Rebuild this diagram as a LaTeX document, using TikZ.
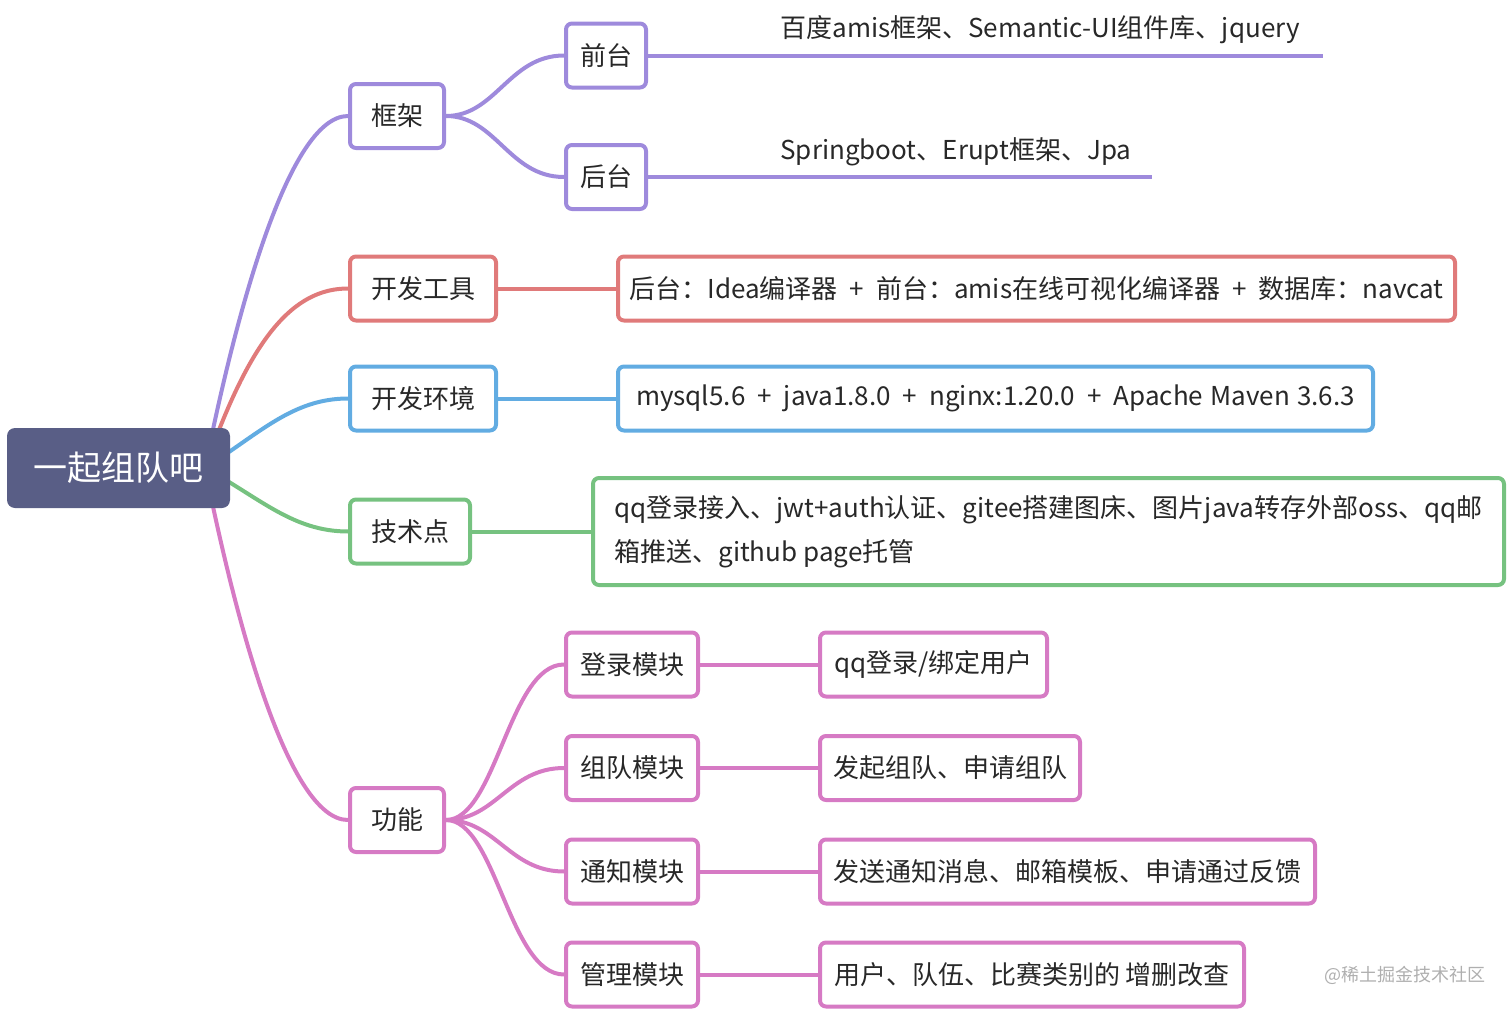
\documentclass[tikz,border=0pt]{standalone}
\usepackage{fontspec}
\setmainfont{Noto Sans CJK SC}
\usetikzlibrary{backgrounds}
\definecolor{rootc}{RGB}{89,94,134}
\definecolor{purc}{RGB}{158,138,220}
\definecolor{redc}{RGB}{224,122,122}
\definecolor{bluc}{RGB}{98,172,226}
\definecolor{grnc}{RGB}{118,194,128}
\definecolor{pnkc}{RGB}{214,122,196}
\definecolor{txtc}{RGB}{40,40,40}
\definecolor{wmc}{RGB}{175,175,175}
\newcommand{\plusgap}{\hspace{6pt}+\hspace{6pt}}
\begin{document}
\begin{tikzpicture}[x=0.5pt,y=-0.5pt,
  mbox/.style={draw, line width=2pt, rounded corners=3pt, fill=white, inner sep=0pt,
    minimum height=32pt, align=center, text=txtc, font=\fontsize{13}{16}\selectfont},
  rootbox/.style={fill=rootc, rounded corners=4pt, inner sep=0pt, minimum width=111.5pt,
    minimum height=40pt, text=white, font=\fontsize{17}{20}\selectfont},
  conn/.style={line width=2pt},
  lbl/.style={inner sep=0pt, text=txtc, font=\fontsize{13}{16}\selectfont, anchor=west}
]
\useasboundingbox (0,0) rectangle (1512,1012);

% root
\node[rootbox] (root) at (118.5,468) {一起组队吧};

% level 1
\node[mbox, draw=purc, minimum width=47pt] (kj) at (397,116) {框架};
\node[mbox, draw=redc, minimum width=73pt] (kf) at (423,288.5) {开发工具};
\node[mbox, draw=bluc, minimum width=73pt] (hj) at (423,398.5) {开发环境};
\node[mbox, draw=grnc, minimum width=60pt] (js) at (410,531.5) {技术点};
\node[mbox, draw=pnkc, minimum width=47pt] (gn) at (397,820) {功能};

% level 2 framework
\node[mbox, draw=purc, minimum width=40pt] (qt) at (606,55.5) {前台};
\node[mbox, draw=purc, minimum width=40pt] (ht) at (606,177) {后台};
\coordinate (qtend) at (1323,55.5);
\coordinate (htend) at (1152,177);
\node[lbl] (qtl) at (780,30) {百度amis框架、Semantic-UI组件库、jquery};
\node[lbl] (htl) at (780,152) {Springboot、Erupt框架、Jpa};

% leaves
\node[mbox, draw=redc, minimum width=418.5pt] (kfl) at (1036.5,288.5) {后台：Idea编译器\plusgap 前台：amis在线可视化编译器\plusgap 数据库：navcat};
\node[mbox, draw=bluc, minimum width=377.5pt] (hjl) at (995.5,398.5) {\spaceskip=3.6pt plus 1pt mysql5.6\plusgap java1.8.0\plusgap nginx:1.20.0\plusgap Apache Maven 3.6.3};
\node[mbox, draw=grnc, minimum width=455.5pt, minimum height=53.5pt, align=left,
  font=\fontsize{13}{22}\selectfont] (jsl) at (1048.5,531.5)
  {qq登录接入、jwt+auth认证、gitee搭建图床、图片java转存外部oss、qq邮\\箱推送、github page托管};

% modules
\node[mbox, draw=pnkc, minimum width=66pt] (m1) at (632,664.5) {登录模块};
\node[mbox, draw=pnkc, minimum width=66pt] (m2) at (632,768) {组队模块};
\node[mbox, draw=pnkc, minimum width=66pt] (m3) at (632,871.5) {通知模块};
\node[mbox, draw=pnkc, minimum width=66pt] (m4) at (632,974.5) {管理模块};
\node[mbox, draw=pnkc, minimum width=113.5pt] (l1) at (933.5,664.5) {qq登录/绑定用户};
\node[mbox, draw=pnkc, minimum width=130pt] (l2) at (950,768) {发起组队、申请组队};
\node[mbox, draw=pnkc, minimum width=247.5pt] (l3) at (1067.5,871.5) {发送通知消息、邮箱模板、申请通过反馈};
\node[mbox, draw=pnkc, minimum width=212pt] (l4) at (1032,974.5) {用户、队伍、比赛类别的 增删改查};

\node[inner sep=0pt, text=wmc, font=\fontsize{9}{11}\selectfont] (wm) at (1405,975) {@稀土掘金技术社区};

\begin{scope}[on background layer]
  \coordinate (rs) at (205,468);
  \draw[conn, purc] (rs) .. controls +(30,-150) and +(-60,0) .. (kj.west);
  \draw[conn, redc] (rs) .. controls +(45,-130) and +(-55,0) .. (kf.west);
  \draw[conn, bluc] (rs) .. controls +(55,-35) and +(-55,0) .. (hj.west);
  \draw[conn, grnc] (rs) .. controls +(55,30) and +(-55,0) .. (js.west);
  \draw[conn, pnkc] (rs) .. controls +(30,150) and +(-60,0) .. (gn.west);

  \draw[conn, purc] (kj.east) .. controls +(50,0) and +(-55,0) .. (qt.west);
  \draw[conn, purc] (kj.east) .. controls +(50,0) and +(-55,0) .. (ht.west);
  \draw[conn, purc] (qt.east) -- (qtend);
  \draw[conn, purc] (ht.east) -- (htend);

  \draw[conn, redc] (kf.east) -- (kfl.west);
  \draw[conn, bluc] (hj.east) -- (hjl.west);
  \draw[conn, grnc] (js.east) -- (jsl.west);

  \draw[conn, pnkc] (gn.east) .. controls +(50,0) and +(-55,0) .. (m1.west);
  \draw[conn, pnkc] (gn.east) .. controls +(50,0) and +(-55,0) .. (m2.west);
  \draw[conn, pnkc] (gn.east) .. controls +(50,0) and +(-55,0) .. (m3.west);
  \draw[conn, pnkc] (gn.east) .. controls +(50,0) and +(-55,0) .. (m4.west);
  \draw[conn, pnkc] (m1.east) -- (l1.west);
  \draw[conn, pnkc] (m2.east) -- (l2.west);
  \draw[conn, pnkc] (m3.east) -- (l3.west);
  \draw[conn, pnkc] (m4.east) -- (l4.west);
\end{scope}
\end{tikzpicture}
\end{document}
